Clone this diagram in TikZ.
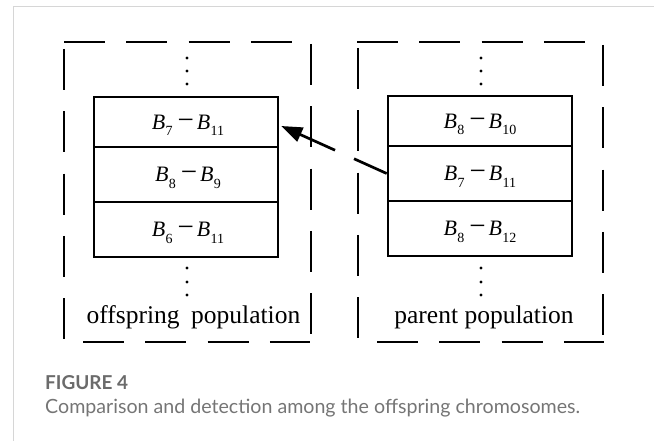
\documentclass[tikz,border=0pt]{standalone}
\usepackage{graphicx}
\usepackage{fontspec}
\setmainfont{Liberation Serif}
\newfontfamily\capfont{Lato}
\usetikzlibrary{arrows.meta,calc}
\definecolor{capgray}{HTML}{6B6B6B}
\definecolor{captxt}{HTML}{757575}
\definecolor{framegray}{HTML}{D6D6D6}
\newcommand{\bpair}[2]{%
 {\fontsize{22}{22}\selectfont\textit{B}}\kern0.3pt\raisebox{-6.5pt}{\fontsize{14}{14}\selectfont #1}%
 \hspace{5pt}{\fontsize{29}{29}\selectfont −}\hspace{3pt}%
 {\fontsize{22}{22}\selectfont\textit{B}}\kern0.3pt\raisebox{-6.5pt}{\fontsize{14}{14}\selectfont #2}}
\begin{document}
\begin{tikzpicture}[x=1pt,y=-1pt,
  rowbox/.style={draw, line width=2.6pt, minimum width=184pt, inner sep=0pt},
  lab/.style={anchor=base, inner sep=0pt},
  poplab/.style={anchor=base, inner sep=0pt, font=\fontsize{25.5}{26}\selectfont},
  dsh/.style={line width=2.8pt, dash pattern=on 41pt off 21.3pt},
  conn/.style={line width=2.7pt}]
\useasboundingbox (0,0) rectangle (654,441);
\draw[framegray, line width=1pt] (13,441) -- (13,7) -- (654,7);

% offspring rows
\node[rowbox, minimum height=50pt] (o1) at (186,122) {};
\node[rowbox, minimum height=55pt] (o2) at (186,174.5) {};
\node[rowbox, minimum height=55pt] (o3) at (186,229.5) {};
\node[lab] (lo1) at ($(o1.center)+(2,7.3)$) {\bpair{7}{11}};
\node[lab] (lo2) at ($(o2.center)+(2,7.3)$) {\bpair{8}{9}};
\node[lab] (lo3) at ($(o3.center)+(2,7.3)$) {\bpair{6}{11}};

% parent rows
\node[rowbox, minimum height=50pt] (p1) at (480,121) {};
\node[rowbox, minimum height=55pt] (p2) at (480,173.5) {};
\node[rowbox, minimum height=55pt] (p3) at (480,228.5) {};
\node[lab] (lp1) at ($(p1.center)+(0,7.3)$) {\bpair{8}{10}};
\node[lab] (lp2) at ($(p2.center)+(0,7.3)$) {\bpair{7}{11}};
\node[lab] (lp3) at ($(p3.center)+(0,7.3)$) {\bpair{8}{12}};

% vertical ellipses
\foreach \yy in {58,71,84,268,282,295}{
  \fill (187,\yy) circle (1.7pt);
  \fill (481,\yy) circle (1.7pt);
}

% dashed boxes (left)
\draw[dsh] (64,42) -- (292,42);
\draw[dsh] (64,49) -- (64,340);
\draw[dsh] (311,44) -- (311,335);
\draw[dsh] (83,342) -- (310,342);
% dashed boxes (right)
\draw[dsh] (357,42) -- (585,42);
\draw[dsh] (358,48) -- (358,339);
\draw[dsh] (603,45) -- (603,336);
\draw[dsh] (377,342) -- (604,342);

\node[poplab] (ol) at (193.5,323) {offspring\hspace{0.45em}population};
\node[poplab] (pl) at (484,323) {parent population};

% arrow (broken)
\coordinate (tip) at ($(o1.east)+(2,4)$);
\coordinate (ga) at ($(tip)!0.51!(p2.west)$);
\coordinate (gb) at ($(tip)!0.69!(p2.west)$);
\draw[conn] (p2.west) -- (gb);
\draw[conn, -{Triangle[length=21pt,width=15pt]}] (ga) -- (tip);

% caption
\node[anchor=base west, inner sep=0pt, text=capgray] (fig) at (45,389)
  {\resizebox{83pt}{14pt}{\capfont\bfseries\fontsize{20}{20}\selectfont FIGURE 4}};
\node[anchor=base west, inner sep=0pt, text=captxt] (cap) at (45,413)
  {\resizebox{535pt}{!}{\capfont\fontsize{20}{20}\selectfont Comparison and detection among the offspring chromosomes.}};
\end{tikzpicture}
\end{document}
